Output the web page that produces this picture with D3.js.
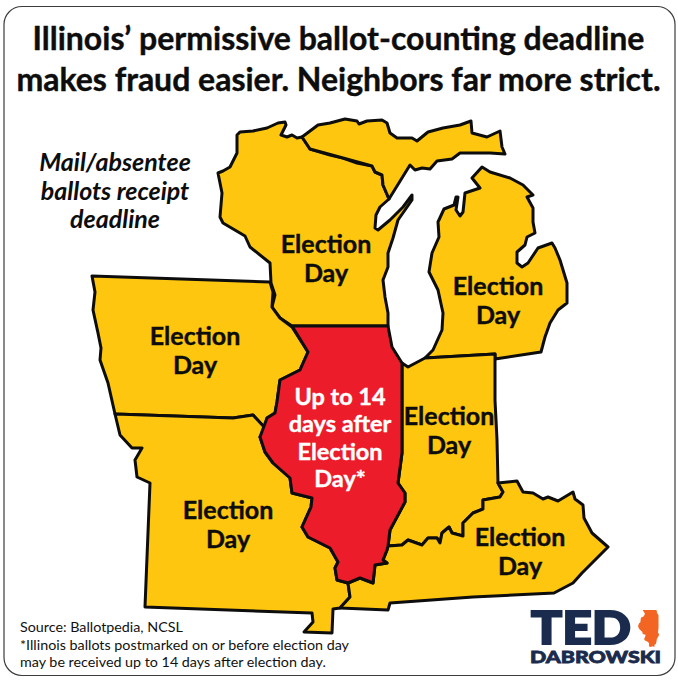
<!DOCTYPE html>
<html>
<head>
<meta charset="utf-8">
<script src="https://cdnjs.cloudflare.com/ajax/libs/d3/7.8.5/d3.min.js"></script>
<style>
html, body { margin: 0; padding: 0; background: #fff; }
svg { display: block; }
text { font-family: Lato, sans-serif; }
</style>
</head>
<body>
<div id="chart"></div>
<script>
// state outlines
var wisconsin = [[218,173],[223,171],[230,167],[237,153],[237,135],[240,132],[253,131],[267,128],[278,123],[285,122],[286,125],[281,135],[287,137],[292,135],[297,138],[302,137],[310,149],[330,155],[343,158],[357,163],[372,166],[375,172],[382,175],[383,185],[389,199],[380,207],[376,215],[375,228],[378,230],[390,220],[403,207],[412,195],[412,200],[405,210],[398,220],[393,238],[388,253],[388,267],[383,280],[385,297],[388,313],[388,326],[292,326],[280,318],[273,310],[272,307],[275,295],[271,283],[270,263],[250,247],[245,236],[223,223],[220,217],[222,193]];
var upperMichigan = [[302,137],[318,125],[330,123],[345,119],[357,121],[359,124],[367,121],[382,120],[387,123],[390,133],[397,138],[412,138],[417,141],[428,132],[443,128],[460,125],[471,121],[472,133],[487,137],[500,131],[502,147],[505,154],[490,153],[460,153],[452,159],[437,161],[430,169],[422,168],[415,170],[410,165],[389,199],[383,185],[382,175],[375,172],[372,166],[343,158],[310,149]];
var lowerMichigan = [[482,167],[490,172],[510,178],[523,185],[533,195],[527,197],[533,208],[533,222],[535,233],[527,237],[525,245],[517,252],[517,263],[522,267],[528,263],[538,248],[552,243],[555,248],[560,260],[567,283],[567,303],[558,310],[550,323],[545,337],[541,352],[495,359],[495,354],[425,358],[433,350],[442,330],[443,313],[438,290],[429,272],[432,253],[439,237],[438,222],[444,209],[454,205],[456,197],[458,197],[456,210],[460,216],[463,212],[465,193],[480,188],[472,178]];
var iowa = [[92,276],[270,282],[273,292],[272,307],[280,318],[292,327],[308,352],[300,370],[280,380],[277,402],[275,413],[267,418],[265,428],[253,415],[233,418],[115,414],[108,383],[100,360],[101,348],[98,333],[93,310],[95,292]];
var missouri = [[115,414],[233,418],[253,415],[265,428],[260,437],[265,452],[273,463],[290,478],[292,493],[312,498],[311,507],[302,527],[308,537],[330,548],[338,562],[335,568],[337,580],[348,583],[350,597],[340,608],[333,609],[332,633],[304,632],[313,622],[312,613],[145,607],[150,483],[137,477],[135,460],[142,448],[132,448],[120,435]];
var indiana = [[402,363],[408,367],[425,358],[495,354],[495,400],[497,440],[498,483],[503,492],[500,497],[483,500],[483,509],[473,513],[463,523],[463,536],[452,533],[449,527],[442,533],[440,543],[437,538],[428,538],[422,545],[408,540],[402,545],[388,546],[390,530],[405,502],[405,493],[398,483],[402,453]];
var kentucky = [[498,483],[517,481],[523,492],[533,493],[543,499],[548,497],[558,501],[573,492],[575,499],[583,505],[584,518],[592,533],[608,547],[595,560],[582,573],[573,583],[554,593],[473,597],[390,603],[388,610],[340,608],[350,597],[348,583],[360,578],[373,583],[375,565],[387,563],[383,560],[387,550],[388,546],[402,545],[408,540],[422,545],[428,538],[437,538],[440,543],[442,533],[449,527],[452,533],[463,536],[463,523],[473,513],[483,509],[483,500],[500,497],[503,492]];
var illinois = [[292,326],[388,326],[392,347],[402,363],[402,453],[398,483],[405,493],[405,502],[390,530],[388,546],[387,550],[383,560],[387,563],[375,565],[373,583],[360,578],[348,583],[337,580],[335,568],[338,562],[330,548],[308,537],[302,527],[311,507],[312,498],[292,493],[290,478],[273,463],[265,452],[260,437],[267,418],[275,413],[277,402],[280,380],[300,370],[308,352]];

var stateNames = ["Wisconsin", "Upper Michigan", "Lower Michigan", "Iowa", "Missouri", "Indiana", "Kentucky"];
var stateShapes = [wisconsin, upperMichigan, lowerMichigan, iowa, missouri, indiana, kentucky];

var titleLines = ["Illinois’ permissive ballot-counting deadline", "makes fraud easier. Neighbors far more strict."];
var noteLines = ["Mail/absentee", "ballots receipt", "deadline"];
var sourceLines = ["Source: Ballotpedia, NCSL", "*Illinois ballots postmarked on or before election day", "may be received up to 14 days after election day."];
var electionDay = ["Election", "Day"];
var illinoisLines = ["Up to 14", "days after", "Election", "Day*"];

var width = 678, height = 680;
var YELLOW = "#fec60f", RED = "#ec1c2b", INK = "#0d0d0d", NAVY = "#1a2b4d", ORANGE = "#f26522";

function feature(name, ring) {
	return {type: "Feature", properties: {name: name}, geometry: {type: "Polygon", coordinates: [ring.concat([ring[0]])]}};
}

var svg = d3.select("#chart").append("svg")
	.attr("width", width)
	.attr("height", height);

// card
svg.append("rect")
	.attr("x", 4).attr("y", 6.5)
	.attr("width", 671).attr("height", 669)
	.attr("rx", 18)
	.style("fill", "#fff")
	.style("stroke", "#3c3c3c")
	.style("stroke-width", 1.2);

// title
svg.selectAll(".title").data(titleLines).enter().append("text")
	.attr("class", "title")
	.attr("x", 338.5)
	.attr("y", function(d, i) { return 50 + i * 41; })
	.attr("text-anchor", "middle")
	.style("font-size", "32px")
	.style("font-weight", 700)
	.style("stroke", INK)
	.style("stroke-width", 0.4)
	.style("fill", INK)
	.text(function(d) { return d; });

// map
var projection = d3.geoIdentity();
var path = d3.geoPath(projection);
var map = svg.append("g");

map.selectAll(".state").data(stateShapes.map(function(s, i) { return feature(stateNames[i], s); })).enter().append("path")
	.attr("class", "state")
	.attr("d", path)
	.style("fill", YELLOW)
	.style("stroke", INK)
	.style("stroke-width", 3)
	.style("stroke-linejoin", "round");

map.append("path")
	.datum(feature("Illinois", illinois))
	.attr("d", path)
	.style("fill", RED)
	.style("stroke", INK)
	.style("stroke-width", 3)
	.style("stroke-linejoin", "round");

// state labels
function label(lines, x, y, step, size, color) {
	svg.append("g").selectAll("text").data(lines).enter().append("text")
		.attr("x", x)
		.attr("y", function(d, i) { return y + i * step; })
		.attr("text-anchor", "middle")
		.style("font-size", size + "px")
		.style("font-weight", 700)
		.style("stroke", color)
		.style("stroke-width", 0.4)
		.style("fill", color)
		.text(function(d) { return d; });
}
label(electionDay, 326, 253, 29, 25, INK);
label(electionDay, 498, 295, 29, 25, INK);
label(electionDay, 195, 345, 29, 25, INK);
label(electionDay, 449, 425, 29, 25, INK);
label(electionDay, 228, 519, 29, 25, INK);
label(electionDay, 520, 546, 29, 25, INK);
label(illinoisLines, 340, 405, 27.3, 23.5, "#fff");

// note
svg.selectAll(".note").data(noteLines).enter().append("text")
	.attr("class", "note")
	.attr("x", 115)
	.attr("y", function(d, i) { return 171 + i * 28.5; })
	.attr("text-anchor", "middle")
	.style("font-size", "25px")
	.style("font-weight", 700)
	.style("font-style", "italic")
	.style("fill", INK)
	.text(function(d) { return d; });

// source
svg.selectAll(".source").data(sourceLines).enter().append("text")
	.attr("class", "source")
	.attr("x", 20)
	.attr("y", function(d, i) { return 632 + i * 17.6; })
	.style("font-size", "14.3px")
	.style("fill", "#111")
	.text(function(d) { return d; });

// logo
var logo = svg.append("g");
logo.append("text")
	.attr("x", 531).attr("y", 644)
	.attr("textLength", 100)
	.attr("lengthAdjust", "spacingAndGlyphs")
	.style("font-size", "46px")
	.style("font-weight", 900)
	.style("stroke", NAVY)
	.style("stroke-width", 2)
	.style("fill", NAVY)
	.text("TED");
logo.append("text")
	.attr("x", 530).attr("y", 663)
	.attr("textLength", 131)
	.attr("lengthAdjust", "spacingAndGlyphs")
	.style("font-size", "17px")
	.style("font-weight", 900)
	.style("stroke", NAVY)
	.style("stroke-width", 0.8)
	.style("fill", NAVY)
	.text("DABROWSKI");
var logoState = feature("Illinois", illinois);
logo.append("path")
	.datum(logoState)
	.attr("d", d3.geoPath(d3.geoIdentity().fitExtent([[638, 610], [659, 647]], logoState)))
	.style("fill", ORANGE);
</script>
</body>
</html>
